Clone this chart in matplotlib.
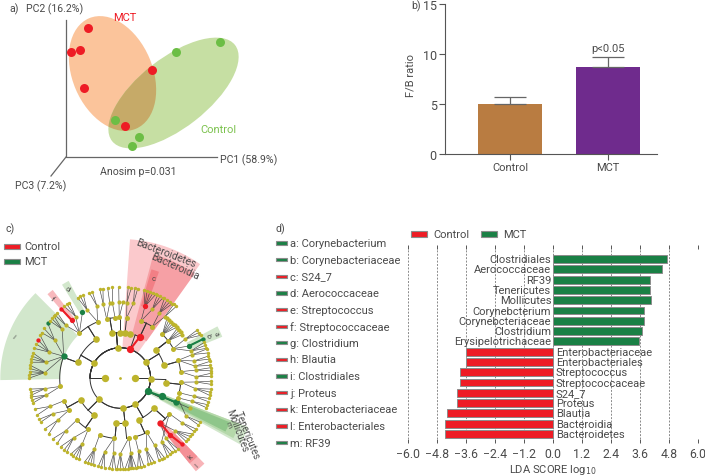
import numpy as np
from matplotlib import pyplot as plt
from matplotlib.patches import Ellipse, Polygon, Rectangle

plt.rcParams['font.family'] = ['Roboto', 'DejaVu Sans']
plt.rcParams['font.size'] = 7.6

RED = "#ee1c25"
DGREEN = "#1a8045"
TXT = "#4a4a4a"
OLIVE = "#bdb42c"

# panel a
mct_x = [88, 71, 80, 84, 152, 125]
mct_y = [28.5, 53, 50.5, 89, 71, 127]
ctrl_x = [220, 176, 115, 139, 132]
ctrl_y = [43, 53, 121, 138, 147]

# panel b
groups = ["Control", "MCT"]
fb_ratio = [5.0, 8.75]
fb_err = [0.7, 1.0]
fb_colors = ["#b97c41", "#6f2b8d"]

# panel d
lda_names = ["Clostridiales", "Aerococcaceae", "RF39", "Tenericutes", "Mollicutes",
             "Corynebcterium", "Corynebcteriaceae", "Clostridium", "Erysipelotrichaceae",
             "Enterobacteriaceae", "Enterobacteriales", "Streptococcus", "Streptococcaceae",
             "S24_7", "Proteus", "Blautia", "Bacteroidia", "Bacteroidetes"]
lda_vals = [4.73, 4.54, 4.04, 4.04, 4.05, 3.78, 3.78, 3.67, 3.57,
            -3.61, -3.61, -3.87, -3.87, -3.96, -3.96, -4.41, -4.47, -4.47]
lda_ticks = [-6.0, -4.8, -3.6, -2.4, -1.2, 0.0, 1.2, 2.4, 3.6, 4.8, 6.0]

clade_names = ["a: Corynebacterium", "b: Corynebacteriaceae", "c: S24_7", "d: Aerococcaceae",
               "e: Streptococcus", "f: Streptococcaceae", "g: Clostridium", "h: Blautia",
               "i: Clostridiales", "j: Proteus", "k: Enterobacteriaceae",
               "l: Enterobacteriales", "m: RF39"]
clade_cols = ["g", "g", "r", "g", "r", "r", "g", "r", "g", "r", "r", "r", "g"]

# panel c: tree, (angle, children[, colour]), ring = depth
def leaves(*angles):
    return [(a, []) for a in angles]

east_top = (32, [
    (38, [(46, leaves(52, 50, 48, 46, 44, 42)),
          (38, leaves(41, 39, 37, 35)),
          (29, [(31, leaves(32, 30, 28)), (25, [(25.2, [], "g")], "g"), (21, leaves(23, 21, 19))])]),
    (16, [(17, [(18, leaves(18.5, 16)), (13, leaves(14, 12)), (9, leaves(10.5, 8))]),
          (6, [(6, leaves(6.5, 4.5)), (1, leaves(3, 1))])]),
])
east_mid = (-2, [
    (-6, [(-4, [(-3, leaves(-2, -4)), (-8, leaves(-7, -9, -11))]),
          (-14, [(-14, leaves(-13, -15))])]),
])
east_low = (-26, [
    (-24, [(-23.6, [(-23.5, [], None)], "g"),
           (-19, [(-18, leaves(-17, -19)), (-30, leaves(-29, -31))])], "g"),
], "g")
south_east = (-60, [
    (-42, [(-48.5, [(-48.8, [(-47, [], "r")], "r"), (-44, leaves(-38, -40, -42, -44)),
                    (-53, leaves(-51, -53))], "r"),
           (-36, [(-36, leaves(-34, -36)), (-57, leaves(-55, -57, -59))])]),
    (-66, [(-64, [(-63, leaves(-61, -63, -65)), (-70, leaves(-68, -70, -72))]),
           (-76, [(-76, leaves(-75, -77, -79))])]),
])
south = (-84, [
    (-84, [(-82, [(-82, leaves(-80, -82, -83, -84, -85, -87)), (-90, leaves(-88, -90, -92))])]),
    (-95, [(-96, [(-95, leaves(-93, -95, -97)), (-102, leaves(-100, -102, -104))]),
           (-110, [(-110, leaves(-107, -109, -111, -113))])]),
])
south_west = (-135, [
    (-125, [(-122, [(-120, leaves(-117, -119, -121, -123)), (-128, leaves(-126, -128, -131))]),
            (-136, [(-136, leaves(-134, -138))])]),
    (-151, [(-148, [(-146, leaves(-142, -146)), (-152, leaves(-151, -153))]),
            (-158, [(-158, leaves(-156, -160))])]),
])
west = (150, [
    (160, [(159, [(176, leaves(180, 178, 176, 174, 172)),
                  (168, leaves(170, 168, 166, 164)),
                  (160, [(155, [], "r"), (158, []), (161, []), (152, [])]),
                  (150, [(143, [], "g"), (150, []), (147, [])]),
                  (140, leaves(141, 139, 137))], "g"),
           (188, [(188, leaves(191, 189, 187)), (193, leaves(196, 194, 192))])]),
    (122, [(132.5, [(130, [(130.5, [], "r")], "r"), (126, leaves(128, 126, 124)),
                    (120, [], "g"), (136, leaves(136, 134))]),
           (112, [(116, leaves(118, 116, 114)), (108, leaves(110, 108))])]),
])
north = (95, [
    (100, [(103, [(103, leaves(103, 101)), (98, leaves(98))]), (95, [(96, leaves(95))])]),
    (90, [(91, [(91, leaves(91)), (88, [])])]),
    (84, [(84, [(85, leaves(85, 83)), (80, leaves(81, 79))])]),
    (78, []),
])
top_red = (71, [
    (64.6, [(70, [(71, leaves(75, 73, 71, 69, 67), "r"), (65, leaves(66, 64, 62))]),
            (58, [(59, leaves(61, 59, 57, 55)), (54, leaves(54, 52))])], "r"),
], "r")

tree = [(180, [south, south_west, west, north, top_red]),
        (0, [east_top, east_mid, east_low, south_east])]

# px coordinates (x right, y down), angles anti-clockwise from east
CX, CY = 120.3, 379.0
RING = 15.15
NODE_SIZE = [4, 28, 23, 23, 13, 9, 6]


def polar(angle, r):
    t = np.deg2rad(angle)
    return CX + r * np.cos(t), CY - r * np.sin(t)


def wedge(ax, a1, a2, r1, r2, color, z=1):
    t = np.linspace(a1, a2, 40)
    xo, yo = polar(t, r2)
    xi, yi = polar(t[::-1], r1)
    ax.add_patch(Polygon(np.c_[np.r_[xo, xi], np.r_[yo, yi]], fc=color, ec="none", zorder=z))


def draw_node(ax, node, level):
    children = node[1]
    col = node[2] if len(node) > 2 else None
    x, y = polar(node[0], level * RING)
    for ch in children:
        ccol = ch[2] if len(ch) > 2 else None
        if level + 1 <= 4:
            r = (level + 1) * RING
            t = np.linspace(min(node[0], ch[0]), max(node[0], ch[0]), 30)
            ax.plot(*polar(t, r), color="#333333", lw=0.7, zorder=3)
            ax.plot(*zip(polar(node[0], level * RING), polar(node[0], r)), color="#333333", lw=0.7, zorder=3)
        else:
            cx, cy = polar(ch[0], (level + 1) * RING)
            ax.plot([x, cx], [y, cy], color="#444444", lw=0.45, zorder=3)
        if col and ccol == col:
            cx, cy = polar(ch[0], (level + 1) * RING)
            ax.plot([x, cx], [y, cy], color=RED if col == "r" else DGREEN, lw=1.5, zorder=4)
        draw_node(ax, ch, level + 1)
    fc = {None: OLIVE, "r": RED, "g": DGREEN}[col]
    boost = 1.0 if col is None else (1.6 if level > 3 else 1.2)
    ax.scatter([x], [y], s=NODE_SIZE[level] * boost, c=fc, lw=0, zorder=5)


def swatch(ax, x, y, w, h, col):
    ax.add_patch(Rectangle((x, y - h / 2), w, h, fc=col, ec="#8c8c8c", lw=0.8))


fig = plt.figure(figsize=(7.05, 4.77), dpi=100)
bg = fig.add_axes([0, 0, 1, 1])
bg.set_xlim(0, 705)
bg.set_ylim(477, 0)
bg.axis("off")

# a)
e1 = Ellipse((112.5, 74.5), 120, 80, angle=67, fc="#fbc49b", ec="none", zorder=1)
e2 = Ellipse((173.5, 94), 156, 70, angle=-38, fc="#c6dfa3", ec="none", zorder=1)
bg.add_patch(e1)
bg.add_patch(e2)
e3 = Ellipse((173.5, 94), 156, 70, angle=-38, fc="#c6aa68", ec="none", zorder=2)
bg.add_patch(e3)
e3.set_clip_path(e1)
bg.plot([66, 66, 217], [21, 158, 158], color="#666666", lw=0.9, zorder=2)
bg.plot([66, 51], [158, 177], color="#666666", lw=0.9, zorder=2)
bg.scatter(ctrl_x, ctrl_y, s=42, c="#6cbe45", lw=0, zorder=3)
bg.scatter(mct_x, mct_y, s=42, c=RED, lw=0, zorder=4)
bg.text(9, 9, "a)", color=TXT, va="center")
bg.text(26, 9, "PC2 (16.2%)", color=TXT, va="center")
bg.text(113, 18, "MCT", color=RED, va="center", fontsize=8)
bg.text(200, 130, "Control", color="#7cc24e", va="center", fontsize=8)
bg.text(220, 160, "PC1 (58.9%)", color=TXT, va="center")
bg.text(100, 172, "Anosim p=0.031", color=TXT, va="center")
bg.text(15, 186, "PC3 (7.2%)", color=TXT, va="center")

# c)
wedge(bg, 55, 86, 30, 139, "#fbc9cc")
wedge(bg, 54.5, 75, 45, 128, "#f6a0a5")
wedge(bg, 70, 74, 75, 113, "#f27f85")
wedge(bg, 135, 181, 60, 120, "#d2e7cc")
wedge(bg, 118, 122, 75, 110, "#d2e7cc")
wedge(bg, 127.5, 131, 75, 111, "#f8b9bd")
wedge(bg, 22, 28, 75, 110, "#d2e7cc")
wedge(bg, -29, -21, 30, 137, "#d2e7cc")
wedge(bg, -28, -21, 45, 128, "#b5d8aa")
wedge(bg, -27, -22, 60, 118, "#8fc68a")
wedge(bg, -51, -45.5, 60, 120, "#f8b4b8")
wedge(bg, -51, -45.5, 75, 110, "#f49096")
bg.scatter([CX], [CY], s=NODE_SIZE[0], c=OLIVE, lw=0, zorder=5)
for sub in tree:
    draw_node(bg, sub, 1)
t = np.linspace(-360, 0, 200)
bg.plot(*polar(t, 2 * RING), color="#333333", lw=0.7, zorder=3)

bg.text(6, 229, "c)", color=TXT, va="center")
swatch(bg, 4, 247, 16, 5, RED)
swatch(bg, 4, 262, 16, 5, DGREEN)
bg.text(24, 247, "Control", color=TXT, va="center", fontsize=8)
bg.text(24, 262, "MCT", color=TXT, va="center", fontsize=8)
bg.text(165.7, 254, "Bacteroidetes", color=TXT, rotation=-21, ha="center", va="center", fontsize=7.4, zorder=6)
bg.text(175, 267, "Bacteroidia", color=TXT, rotation=-24, ha="center", va="center", fontsize=7.4, zorder=6)
bg.text(153.5, 279, "c", color=TXT, ha="center", va="center", fontsize=5.5)
bg.text(13, 337, "i", color=TXT, rotation=-40, ha="center", va="center", fontsize=5.5)
bg.text(67, 289, "d", color=TXT, rotation=-30, ha="center", va="center", fontsize=5.5)
bg.text(52, 299, "f", color=TXT, rotation=-40, ha="center", va="center", fontsize=5.5)
bg.text(216, 334, "a", color=TXT, rotation=-70, ha="center", va="center", fontsize=5)
bg.text(208, 336, "b", color=TXT, rotation=-70, ha="center", va="center", fontsize=5)
bg.text(247, 436, "Tenericutes", color=TXT, rotation=-68, ha="center", va="center", fontsize=7, zorder=6)
bg.text(237, 431, "Mollicutes", color=TXT, rotation=-69, ha="center", va="center", fontsize=7, zorder=6)
bg.text(228, 425, "m", color=TXT, rotation=-65, ha="center", va="center", fontsize=5)
bg.text(190, 457.7, "k", color=TXT, rotation=45, ha="center", va="center", fontsize=5.5)
bg.text(197, 465.7, "l", color=TXT, rotation=45, ha="center", va="center", fontsize=5.5)

# d) list
bg.text(275, 229, "d)", color=TXT, va="center")
for i, (name, c) in enumerate(zip(clade_names, clade_cols)):
    y = 244 + i * 16.63
    swatch(bg, 275.5, y, 11.5, 3.3, RED if c == "r" else DGREEN)
    bg.text(290, y, name, color=TXT, va="center", fontsize=8)
swatch(bg, 411, 235, 16, 5.5, RED)
bg.text(433, 235, "Control", color=TXT, va="center", fontsize=8)
swatch(bg, 481, 235, 16, 5.5, DGREEN)
bg.text(503, 235, "MCT", color=TXT, va="center", fontsize=8)

W, H = 705.0, 477.0

# b)
axb = fig.add_axes([445 / W, 1 - 155 / H, 212 / W, 149.7 / H])
xp = np.arange(len(groups))
axb.bar(xp, fb_ratio, width=0.66, color=fb_colors)
axb.errorbar(xp, fb_ratio, yerr=[[0, 0], fb_err], fmt="none", ecolor="#666666", elinewidth=0.9, capsize=11.5, capthick=0.9)
axb.set_xlim(-0.663, 1.5)
axb.set_ylim(0, 15)
axb.set_xticks(xp, groups, color=TXT, fontsize=8)
axb.set_yticks([0, 5, 10, 15])
axb.set_yticklabels(["0", "5", "10", "15"], color=TXT, fontsize=9)
axb.set_ylabel("F/B ratio", color=TXT, fontsize=8)
axb.yaxis.set_label_coords(-0.137, 0.53)
axb.tick_params(color="#555555", width=0.8, length=4, pad=2)
for s in ["top", "right"]:
    axb.spines[s].set_visible(False)
for s in ["left", "bottom"]:
    axb.spines[s].set_color("#555555")
    axb.spines[s].set_linewidth(0.8)
axb.text(1, 10.6, "p<0.05", color=TXT, ha="center", va="center", fontsize=8)
bg.text(411, 6, "b)", color=TXT, va="center")

# d) bars
axd = fig.add_axes([408.3 / W, 1 - 440 / H, 289.4 / W, 190 / H])
axd.patch.set_alpha(0)
yp = np.arange(len(lda_names))
axd.barh(yp, lda_vals, height=0.76, color=[DGREEN if v > 0 else RED for v in lda_vals],
         edgecolor="#8c8c8c", linewidth=0.7, zorder=2)
axd.set_xlim(-6, 6)
axd.set_ylim(len(lda_names) - 1 + 0.49, -0.98)
for v in lda_ticks[:-1]:
    axd.axvline(v, color="#8a8a8a", lw=0.7, ls=(0, (2, 1.5)), zorder=1)
for y, v, n in zip(yp, lda_vals, lda_names):
    if v > 0:
        axd.text(-0.07, y, n, ha="right", va="center", color=TXT, fontsize=8, zorder=3)
    else:
        axd.text(0.12, y, n, ha="left", va="center", color=TXT, fontsize=8, zorder=3)
axd.set_xticks(lda_ticks, [f"{v:.1f}".replace("-", "\u2212") for v in lda_ticks], color=TXT, fontsize=8.8)
axd.set_yticks([])
axd.tick_params(axis="x", length=3, width=0.7, color="#555555", pad=2.5, top=True)
for s in axd.spines.values():
    s.set_visible(False)
axd.set_xlabel("LDA SCORE log$_{10}$", color=TXT, fontsize=8, labelpad=2)

fig.savefig("out.png", dpi=100)
